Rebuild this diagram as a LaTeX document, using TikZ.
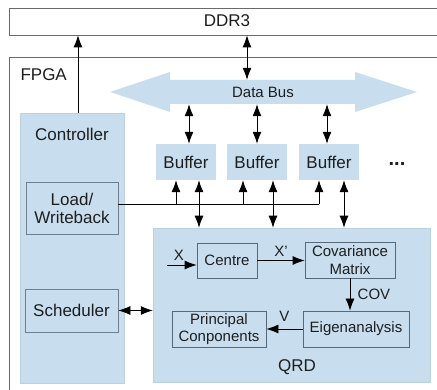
\documentclass[tikz,border=0pt]{standalone}
\usepackage{fontspec}
\setmainfont{Liberation Sans}
\usetikzlibrary{arrows.meta,calc}
\definecolor{lb}{HTML}{C8DEEE}
\definecolor{bd}{HTML}{55697A}
\definecolor{ol}{HTML}{6A6A6A}
\definecolor{tx}{HTML}{1E1E1E}
\begin{document}
\begin{tikzpicture}[x=1pt,y=-1pt,
  tip/.tip={Latex[length=12pt,width=9pt]},
  arr/.style={-tip,line width=0.8pt,draw=black},
  darr/.style={tip-tip,line width=0.8pt,draw=black},
  bigtxt/.style={font=\fontsize{17}{18}\selectfont,text=tx},
  smtxt/.style={font=\fontsize{15}{17.5}\selectfont,text=tx},
  region/.style={fill=lb,draw=lb!85!gray,line width=0.5pt,inner sep=0pt},
  buf/.style={fill=lb,inner sep=0pt,minimum width=60pt,minimum height=36pt,bigtxt},
  inbox/.style={draw=bd,line width=0.8pt,inner sep=0pt,align=center},
  outline/.style={draw=ol,line width=0.8pt,inner sep=0pt}
]
\clip (0,0) rectangle (437,390);
\fill[white] (0,0) rectangle (437,390);
% outer boxes
\node[outline,minimum width=451pt,minimum height=27pt] (ddr) at (234.5,21.5) {};
\node[bigtxt] (ddrlbl) at (227,21) {DDR3};
\node[outline,minimum width=451pt,minimum height=343pt] (fpga) at (234.5,228.5) {};
\node[bigtxt,anchor=west] (fpgalbl) at (17,75) {FPGA};
% data bus
\fill[lb] (110,92) -- (170,72) -- (170,80) -- (355,80) -- (355,72) -- (417,92)
  -- (355,112) -- (355,104) -- (170,104) -- (170,112) -- cycle;
\node[inner sep=0pt,minimum width=185pt,minimum height=24pt] (bus) at (262.5,92) {};
\node[smtxt] (buslbl) at (263,92) {Data Bus};
% controller
\node[region,minimum width=104pt,minimum height=270pt] (ctrl) at (72,248) {};
\node[bigtxt] (ctrllbl) at (72,134) {Controller};
\node[inbox,bigtxt,fill=lb,draw=bd!80!lb,minimum width=92pt,minimum height=52pt] (lw) at (72,208) {Load/\\Writeback};
\node[inbox,bigtxt,fill=lb,draw=bd!80!lb,minimum width=93pt,minimum height=43pt] (sched) at (71.5,310.5) {Scheduler};
% buffers
\node[buf] (b1) at (186,162) {Buffer};
\node[buf] (b2) at (257,162) {Buffer};
\node[buf] (b3) at (329,162) {Buffer};
\node[font=\bfseries\fontsize{20}{20}\selectfont,text=tx] (dots) at (397,164) {...};
% QRD
\node[region,minimum width=277pt,minimum height=154pt] (qrd) at (291.5,305) {};
\node[bigtxt] (qrdlbl) at (297,367) {QRD};
\node[inbox,smtxt,minimum width=60pt,minimum height=35pt] (centre) at (227,260.5) {Centre};
\node[inbox,smtxt,minimum width=90pt,minimum height=36pt] (cov) at (350,260) {Covariance\\Matrix};
\node[inbox,smtxt,minimum width=106pt,minimum height=36pt] (eig) at (356,329) {Eigenanalysis};
\node[inbox,smtxt,minimum width=94pt,minimum height=36pt] (pc) at (219,329) {Principal\\Conponents};
% coordinates
\coordinate (xd) at (247,0);
\coordinate (xc) at (78,0);
\coordinate (k1) at (189,0);
\coordinate (k2) at (257,0);
\coordinate (k3) at (327,0);
\coordinate (u1) at (176,0);
\coordinate (u2) at (243,0);
\coordinate (u3) at (319,0);
\coordinate (d1) at (199,0);
\coordinate (d2) at (273,0);
\coordinate (d3) at (344,0);
\coordinate (hl) at (0,204);
\coordinate (xin) at (167,265);
% connectors
\draw[arr] (ctrl.north -| xc) -- (ddr.south -| xc);
\draw[darr] (ddr.south -| xd) -- (bus.north -| xd);
\foreach \k/\b in {k1/b1,k2/b2,k3/b3}
  \draw[darr] (bus.south -| \k) -- (\b.north -| \k);
\draw[line width=0.8pt] (lw.east |- hl) -- (u3 |- hl);
\foreach \u/\b in {u1/b1,u2/b2,u3/b3}
  \draw[arr] (\u |- hl) -- (\b.south -| \u);
\foreach \d/\b in {d1/b1,d2/b2,d3/b3}
  \draw[darr] (\b.south -| \d) -- (qrd.north -| \d);
\draw[darr] (sched.east) -- (sched.east -| qrd.west);
\draw[arr] (xin) -- (xin -| centre.west) node[pos=0.4,above=1pt,smtxt] {X};
\draw[arr] (centre.east) -- (centre.east -| cov.west) node[midway,above=0pt,smtxt] {X'};
\draw[arr] (cov.south) -- (cov.south |- eig.north) node[midway,right=4pt,smtxt] {COV};
\draw[arr] (eig.west) -- (eig.west -| pc.east) node[midway,above=4pt,smtxt] {V};
\end{tikzpicture}
\end{document}
